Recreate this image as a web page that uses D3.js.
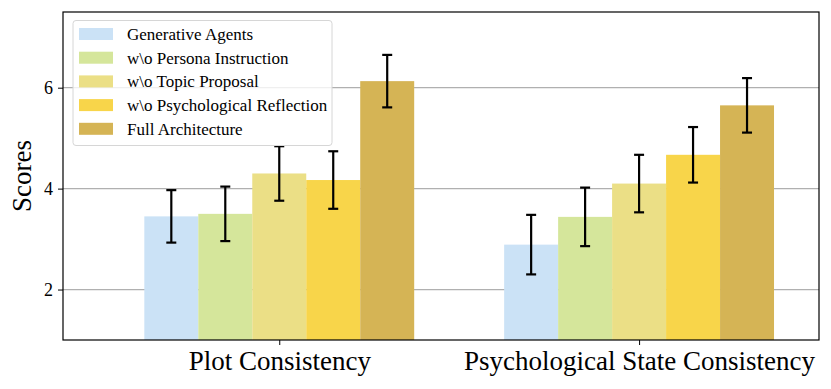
<!DOCTYPE html>
<html>
<head>
<meta charset="utf-8">
<script src="https://cdn.jsdelivr.net/npm/d3@7"></script>
<style>
  body { margin: 0; background: #fff; }
  text { font-family: "Liberation Serif", "Times New Roman", serif; fill: #000; }
</style>
</head>
<body>
<div id="chart"></div>
<script>
// data
var groups = ["Plot Consistency", "Psychological State Consistency"];
var methods = ["Generative Agents", "w\\o Persona Instruction", "w\\o Topic Proposal",
               "w\\o Psychological Reflection", "Full Architecture"];
var colors = ["#cbe2f6", "#d5e69b", "#ebdf86", "#f8d54a", "#d5b455"];
var plotScores = [3.45, 3.50, 4.30, 4.17, 6.13];
var plotErrors = [0.52, 0.54, 0.54, 0.57, 0.52];
var psychScores = [2.89, 3.44, 4.10, 4.67, 5.65];
var psychErrors = [0.59, 0.58, 0.57, 0.55, 0.54];
var yTicks = [2, 4, 6];

var scores = [plotScores, psychScores];
var errors = [plotErrors, psychErrors];

var margin = {top: 12, right: 12, bottom: 49, left: 63},
    width = 831 - margin.left - margin.right,
    height = 389 - margin.top - margin.bottom;

var barW = 0.15;

var x = d3.scaleLinear().domain([-0.601, 1.5]).range([0, width]);
var y = d3.scaleLinear().domain([1, 7.5]).range([height, 0]);

var svg = d3.select("#chart").append("svg")
    .attr("width", 831)
    .attr("height", 389)
  .append("g")
    .attr("transform", "translate(" + margin.left + "," + margin.top + ")");

// grid lines
svg.append("g")
  .selectAll("line")
  .data(yTicks)
  .enter().append("line")
    .attr("x1", 0).attr("x2", width)
    .attr("y1", function(d) { return y(d); })
    .attr("y2", function(d) { return y(d); })
    .style("stroke", "#b0b0b0")
    .style("stroke-width", 1.2);

// flatten into bars
var bars = [];
groups.forEach(function(g, gi) {
  methods.forEach(function(m, mi) {
    bars.push({g: gi, m: mi, value: scores[gi][mi], err: errors[gi][mi]});
  });
});
function cx(d) { return x(d.g + (d.m - 2) * barW); }

svg.selectAll(".bar")
  .data(bars)
  .enter().append("rect")
    .attr("class", "bar")
    .attr("x", function(d) { return x(d.g + (d.m - 2.5) * barW); })
    .attr("width", x(barW) - x(0))
    .attr("y", function(d) { return y(d.value); })
    .attr("height", function(d) { return y(1) - y(d.value); })
    .style("fill", function(d) { return colors[d.m]; });

// error bars
var eb = svg.selectAll(".err")
  .data(bars)
  .enter().append("g")
    .attr("class", "err")
    .style("stroke", "#000")
    .style("stroke-width", 2.2);
eb.append("line")
  .attr("x1", cx).attr("x2", cx)
  .attr("y1", function(d) { return y(d.value + d.err); })
  .attr("y2", function(d) { return y(d.value - d.err); });
eb.append("line")
  .attr("x1", function(d) { return cx(d) - 5; }).attr("x2", function(d) { return cx(d) + 5; })
  .attr("y1", function(d) { return y(d.value + d.err); })
  .attr("y2", function(d) { return y(d.value + d.err); });
eb.append("line")
  .attr("x1", function(d) { return cx(d) - 5; }).attr("x2", function(d) { return cx(d) + 5; })
  .attr("y1", function(d) { return y(d.value - d.err); })
  .attr("y2", function(d) { return y(d.value - d.err); });

// frame
svg.append("rect")
  .attr("width", width).attr("height", height)
  .style("fill", "none").style("stroke", "#000").style("stroke-width", 1.2);

// y axis
var yAxis = svg.append("g")
  .call(d3.axisLeft(y).tickValues(yTicks).tickSize(5).tickPadding(5).tickFormat(d3.format("d")));
yAxis.select(".domain").remove();
yAxis.selectAll("text").style("font-size", "18px").style("font-family", "Liberation Serif");

// x axis
var xAxis = svg.append("g")
  .attr("transform", "translate(0," + height + ")")
  .call(d3.axisBottom(x).tickValues([0, 1]).tickSize(5).tickPadding(6)
    .tickFormat(function(d) { return groups[d]; }));
xAxis.select(".domain").remove();
xAxis.selectAll("text").style("font-size", "27px").style("font-family", "Liberation Serif");

svg.append("text")
  .attr("transform", "rotate(-90)")
  .attr("x", -y(4.25))
  .attr("y", -32)
  .attr("text-anchor", "middle")
  .style("font-size", "27px")
  .text("Scores");

// legend
var legend = svg.append("g").attr("transform", "translate(10,8.5)");
legend.append("rect")
  .attr("width", 259).attr("height", 125)
  .attr("rx", 3)
  .style("fill", "#fff").style("fill-opacity", 0.8)
  .style("stroke", "#d6d6d6").style("stroke-width", 1);
var item = legend.selectAll(".item")
  .data(methods)
  .enter().append("g")
    .attr("transform", function(d, i) { return "translate(6," + (13.5 + i * 23.7) + ")"; });
item.append("rect")
  .attr("y", -6).attr("width", 34).attr("height", 12)
  .style("fill", function(d, i) { return colors[i]; });
item.append("text")
  .attr("x", 48).attr("dy", "0.35em")
  .style("font-size", "17px")
  .text(function(d) { return d; });
</script>
</body>
</html>
